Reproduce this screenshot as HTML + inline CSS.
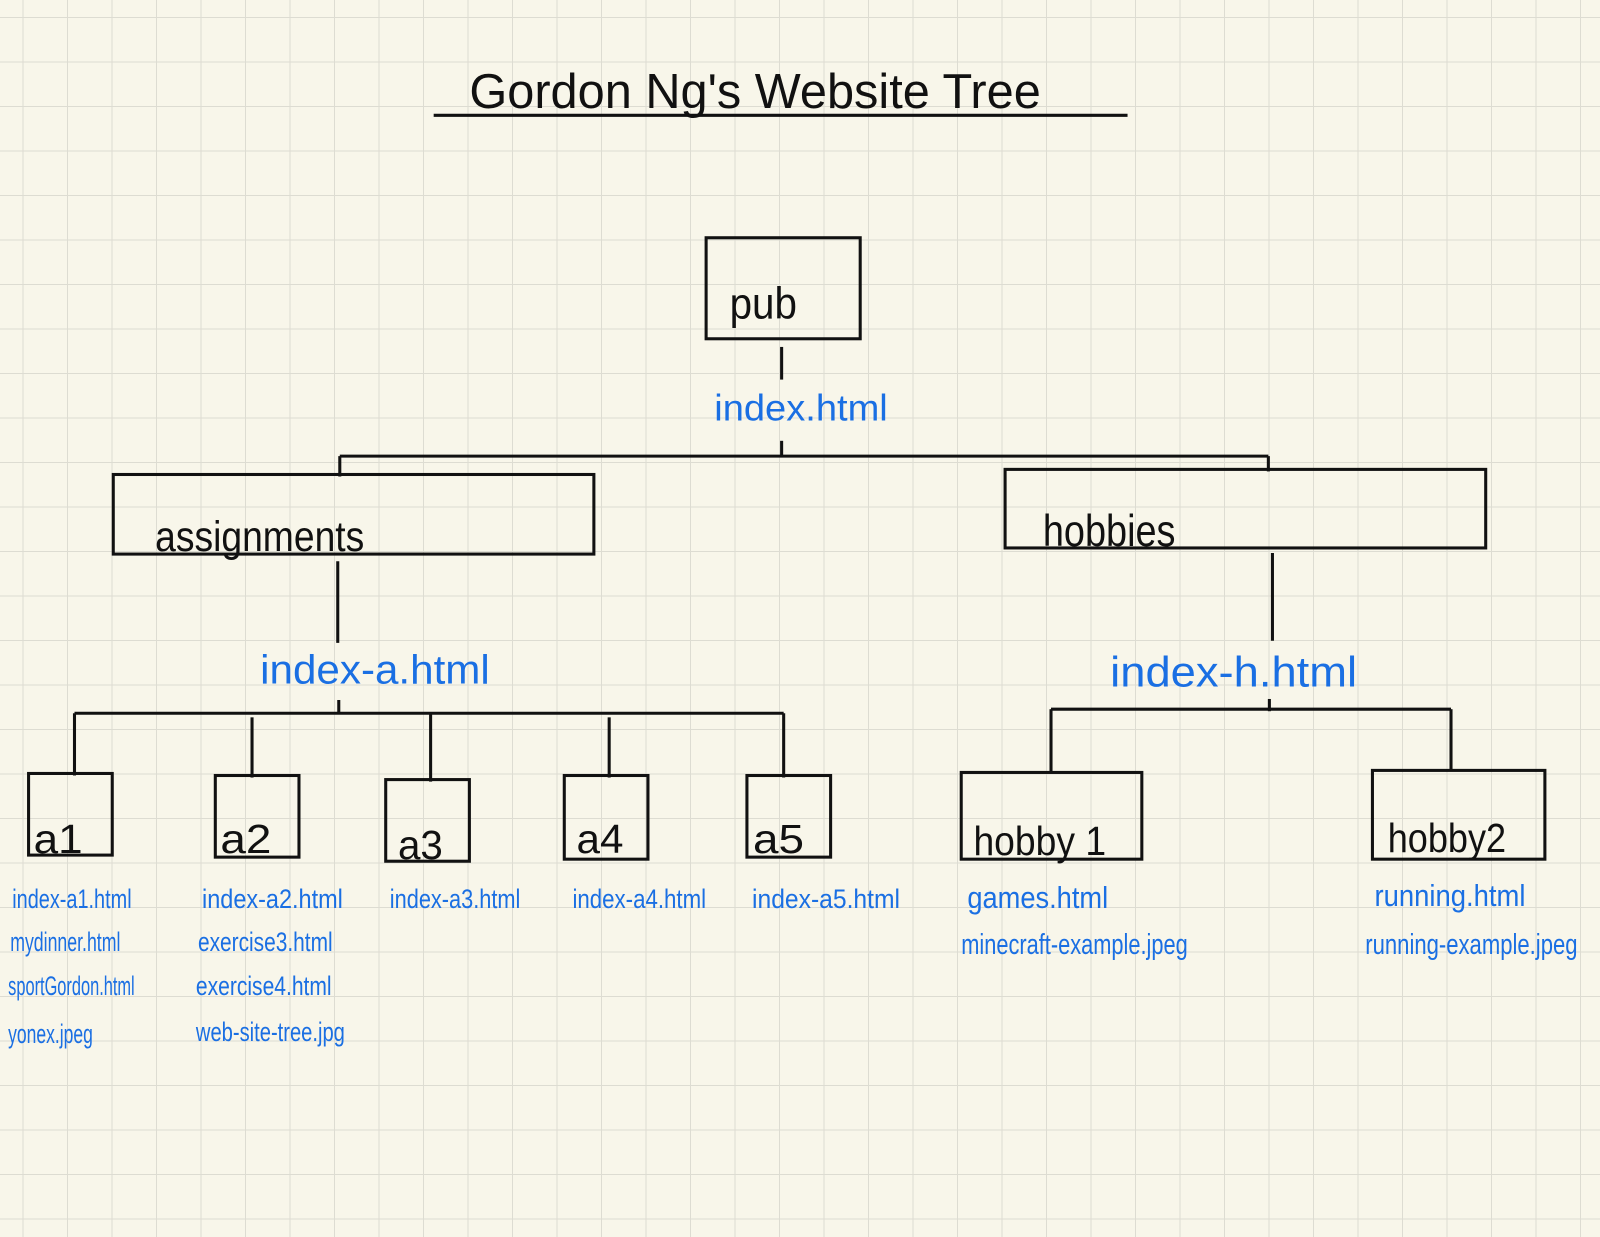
<!DOCTYPE html>
<html><head><meta charset="utf-8"><style>
html,body{margin:0;padding:0;background:#f8f6ea;}
svg{display:block}
text{font-family:"Liberation Sans",sans-serif;}
.k{fill:#111}
.b{fill:#1a6fe3}
</style></head><body>
<svg width="1600" height="1237" viewBox="0 0 1600 1237" xmlns="http://www.w3.org/2000/svg">
<defs>
<pattern id="g" x="22.5" y="17" width="44.5" height="44.5" patternUnits="userSpaceOnUse">
<path d="M0 0H44.5M0 0V44.5" stroke="#dddcd2" stroke-width="2" fill="none"/>
</pattern>
</defs>
<rect width="1600" height="1237" fill="#f8f6ea"/>
<rect width="1600" height="1237" fill="url(#g)"/>
<g transform="scale(1.0204)">
<g stroke="#111" stroke-width="3" fill="none">
<line x1="425" y1="113" x2="1105" y2="113"/>
<rect x="692" y="233" width="151" height="99"/>
<line x1="766" y1="340" x2="766" y2="372"/>
<line x1="766" y1="432" x2="766" y2="447"/>
<line x1="333" y1="447" x2="1243" y2="447"/>
<line x1="333" y1="447" x2="333" y2="467"/>
<line x1="1243" y1="447" x2="1243" y2="462"/>
<rect x="111" y="465" width="471" height="78"/>
<rect x="985" y="460" width="471" height="77"/>
<line x1="331" y1="550" x2="331" y2="630"/>
<line x1="1247" y1="542" x2="1247" y2="628"/>
<line x1="73" y1="699" x2="768" y2="699"/>
<line x1="332" y1="686" x2="332" y2="699"/>
<line x1="73" y1="699" x2="73" y2="760"/>
<line x1="247" y1="703" x2="247" y2="762"/>
<line x1="422" y1="700" x2="422" y2="766"/>
<line x1="597" y1="703" x2="597" y2="762"/>
<line x1="768" y1="699" x2="768" y2="762"/>
<rect x="28" y="758" width="82" height="80"/>
<rect x="211" y="760" width="82" height="80"/>
<rect x="378" y="764" width="82" height="80"/>
<rect x="553" y="760" width="82" height="82"/>
<rect x="732" y="760" width="82" height="80"/>
<line x1="1030" y1="695" x2="1422" y2="695"/>
<line x1="1244" y1="685" x2="1244" y2="697"/>
<line x1="1030" y1="695" x2="1030" y2="757"/>
<line x1="1422" y1="695" x2="1422" y2="755"/>
<rect x="942" y="757" width="177" height="85"/>
<rect x="1345" y="755" width="169" height="87"/>
</g>
<text class="k" x="460" y="106" font-size="48" textLength="560" lengthAdjust="spacingAndGlyphs">Gordon  Ng's  Website  Tree</text>
<text class="k" x="715" y="312" font-size="44" textLength="66" lengthAdjust="spacingAndGlyphs">pub</text>
<text class="b" x="700" y="412" font-size="36" textLength="170" lengthAdjust="spacingAndGlyphs">index.html</text>
<text class="k" x="152" y="540" font-size="42" textLength="205" lengthAdjust="spacingAndGlyphs">assignments</text>
<text class="k" x="1022" y="535" font-size="44" textLength="130" lengthAdjust="spacingAndGlyphs">hobbies</text>
<text class="b" x="255" y="670" font-size="40" textLength="225" lengthAdjust="spacingAndGlyphs">index-a.html</text>
<text class="b" x="1088" y="673" font-size="42" textLength="242" lengthAdjust="spacingAndGlyphs">index-h.html</text>
<text class="k" x="33" y="836" font-size="40" textLength="48" lengthAdjust="spacingAndGlyphs">a1</text>
<text class="k" x="216" y="836" font-size="40" textLength="50" lengthAdjust="spacingAndGlyphs">a2</text>
<text class="k" x="390" y="842" font-size="40" textLength="44" lengthAdjust="spacingAndGlyphs">a3</text>
<text class="k" x="565" y="836" font-size="40" textLength="46" lengthAdjust="spacingAndGlyphs">a4</text>
<text class="k" x="738" y="836" font-size="40" textLength="50" lengthAdjust="spacingAndGlyphs">a5</text>
<text class="k" x="954" y="838" font-size="40" textLength="130" lengthAdjust="spacingAndGlyphs">hobby 1</text>
<text class="k" x="1360" y="835" font-size="40" textLength="116" lengthAdjust="spacingAndGlyphs">hobby2</text>
<g font-size="26">
<text class="b" x="12" y="890" textLength="117" lengthAdjust="spacingAndGlyphs">index-a1.html</text>
<text class="b" x="10" y="932" textLength="108" lengthAdjust="spacingAndGlyphs">mydinner.html</text>
<text class="b" x="8" y="975" textLength="124" lengthAdjust="spacingAndGlyphs">sportGordon.html</text>
<text class="b" x="8" y="1022" textLength="83" lengthAdjust="spacingAndGlyphs">yonex.jpeg</text>
<text class="b" x="198" y="890" textLength="138" lengthAdjust="spacingAndGlyphs">index-a2.html</text>
<text class="b" x="194" y="932" textLength="132" lengthAdjust="spacingAndGlyphs">exercise3.html</text>
<text class="b" x="192" y="975" textLength="133" lengthAdjust="spacingAndGlyphs">exercise4.html</text>
<text class="b" x="192" y="1020" textLength="146" lengthAdjust="spacingAndGlyphs">web-site-tree.jpg</text>
<text class="b" x="382" y="890" textLength="128" lengthAdjust="spacingAndGlyphs">index-a3.html</text>
<text class="b" x="561" y="890" textLength="131" lengthAdjust="spacingAndGlyphs">index-a4.html</text>
<text class="b" x="737" y="890" textLength="145" lengthAdjust="spacingAndGlyphs">index-a5.html</text>
</g>
<text class="b" x="948" y="890" font-size="30" textLength="138" lengthAdjust="spacingAndGlyphs">games.html</text>
<text class="b" x="942" y="935" font-size="28" textLength="222" lengthAdjust="spacingAndGlyphs">minecraft-example.jpeg</text>
<text class="b" x="1347" y="888" font-size="30" textLength="148" lengthAdjust="spacingAndGlyphs">running.html</text>
<text class="b" x="1338" y="935" font-size="28" textLength="208" lengthAdjust="spacingAndGlyphs">running-example.jpeg</text>
</g>
</svg>
</body></html>
